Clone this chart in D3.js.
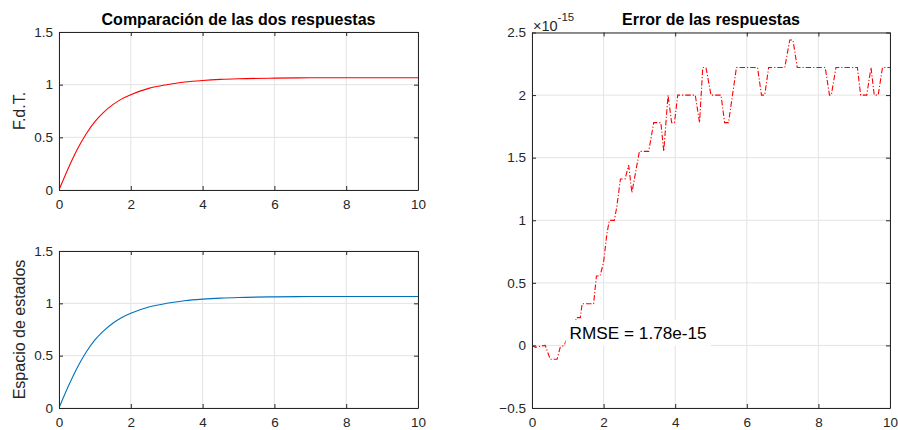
<!DOCTYPE html>
<html>
<head>
<meta charset="utf-8">
<script src="https://cdn.jsdelivr.net/npm/d3@7"></script>
<style>
  html, body { margin: 0; padding: 0; background: #fff; }
  svg { display: block; font-family: "Liberation Sans", Arial, Helvetica, sans-serif; }
  .tick text { fill: #262626; font-size: 13.5px; }
  .domain { stroke: #262626; }
  .tick line { stroke: #262626; }
</style>
</head>
<body>
<svg id="fig" width="898" height="430"></svg>
<script>
// Step responses: transfer function model and state-space model
const timeResp = [0, 0.25, 0.5, 0.75, 1, 1.25, 1.5, 1.75, 2, 2.5, 3, 3.5, 4, 4.5, 5, 6, 7, 8, 9, 10];
const fdtResp  = [0, 0.2, 0.38, 0.53, 0.65, 0.74, 0.81, 0.865, 0.905, 0.965, 1.0, 1.025, 1.04, 1.05, 1.056, 1.062, 1.065, 1.066, 1.066, 1.066];
const ssResp   = [0, 0.2, 0.38, 0.53, 0.65, 0.74, 0.81, 0.865, 0.905, 0.965, 1.0, 1.025, 1.04, 1.05, 1.056, 1.062, 1.065, 1.066, 1.066, 1.066];

// Difference between both responses (units of 1e-15)
const errTime = [0, 0.1, 0.25, 0.37, 0.51, 0.70, 0.79, 0.90, 1.05, 1.15, 1.24, 1.35, 1.40, 1.72, 1.80, 1.90, 2.00, 2.09, 2.16, 2.30,
                 2.37, 2.47, 2.60, 2.70, 2.79, 2.93, 3.00, 3.26, 3.40, 3.60, 3.68, 3.80, 3.90, 3.98, 4.07, 4.56, 4.68, 4.77, 4.86, 5.00,
                 5.28, 5.38, 5.49, 5.71, 6.30, 6.41, 6.50, 6.61, 7.06, 7.20, 7.29, 7.41, 8.19, 8.31, 8.36, 8.49, 9.09, 9.18, 9.35, 9.47,
                 9.56, 9.67, 9.79, 10.0];
const errVal  = [0, -0.015, -0.005, 0, -0.111, -0.111, -0.013, 0, 0.111, 0.111, 0.222, 0.222, 0.333, 0.333, 0.555, 0.555, 0.666, 0.888, 0.999, 0.999,
                 1.11, 1.33, 1.33, 1.44, 1.22, 1.44, 1.55, 1.55, 1.78, 1.78, 1.55, 2.0, 1.78, 1.78, 2.0, 2.0, 1.78, 2.22, 2.22, 2.0,
                 2.0, 1.78, 1.78, 2.22, 2.22, 2.0, 2.0, 2.22, 2.22, 2.44, 2.44, 2.22, 2.22, 2.0, 2.0, 2.22, 2.22, 2.0, 2.0, 2.22,
                 2.0, 2.0, 2.22, 2.22];
const rmseText = "RMSE = 1.78e-15";
const rmsePos = [1.05, 0.1];

// Tick labels
const xTicks = [0, 2, 4, 6, 8, 10];
const yTicksLeft = [0, 0.5, 1, 1.5];
const yTicksErr = [-0.5, 0, 0.5, 1, 1.5, 2, 2.5];

const svg = d3.select("#fig");
const gridColor = "#e3e3e3";
const axisColor = "#262626";

function drawAxes(g, x, y, yTicks) {
  const [x0, x1] = x.range();
  const [y0, y1] = y.range();
  // grid
  g.append("g").selectAll("line").data(xTicks).join("line")
    .attr("x1", d => x(d)).attr("x2", d => x(d)).attr("y1", y1).attr("y2", y0)
    .attr("stroke", gridColor).attr("stroke-width", 1);
  g.append("g").selectAll("line").data(yTicks).join("line")
    .attr("x1", x0).attr("x2", x1).attr("y1", d => y(d)).attr("y2", d => y(d))
    .attr("stroke", gridColor).attr("stroke-width", 1);
}

function drawFrame(g, x, y, yTicks) {
  const [x0, x1] = x.range();
  const [y0, y1] = y.range();
  const fmt = d3.format("~g");
  g.append("g").attr("transform", `translate(0,${y0})`)
    .call(d3.axisBottom(x).tickValues(xTicks).tickFormat(fmt).tickSizeInner(-4).tickSizeOuter(0).tickPadding(9.5));
  g.append("g").attr("transform", `translate(0,${y1})`)
    .call(d3.axisTop(x).tickValues(xTicks).tickFormat("").tickSizeInner(-4).tickSizeOuter(0));
  g.append("g").attr("transform", `translate(${x0},0)`)
    .call(d3.axisLeft(y).tickValues(yTicks).tickFormat(fmt).tickSizeInner(-4).tickSizeOuter(0).tickPadding(6));
  g.append("g").attr("transform", `translate(${x1},0)`)
    .call(d3.axisRight(y).tickValues(yTicks).tickFormat("").tickSizeInner(-4).tickSizeOuter(0));
  g.selectAll(".domain").attr("stroke", axisColor).attr("stroke-width", 1);
  g.selectAll(".tick text").attr("font-size", 13.5).attr("fill", axisColor);
}

function clipRect(id, x, y) {
  const [x0, x1] = x.range();
  const [y0, y1] = y.range();
  svg.append("clipPath").attr("id", id).append("rect")
    .attr("x", x0).attr("y", y1).attr("width", x1 - x0).attr("height", y0 - y1);
}

// ---------- top-left: transfer function ----------
{
  const x = d3.scaleLinear().domain([0, 10]).range([59, 418]);
  const y = d3.scaleLinear().domain([0, 1.5]).range([190, 32]);
  const g = svg.append("g");
  drawAxes(g, x, y, yTicksLeft);
  clipRect("clipTL", x, y);
  g.append("path").datum(timeResp.map((t, i) => [t, fdtResp[i]]))
    .attr("clip-path", "url(#clipTL)")
    .attr("fill", "none").attr("stroke", "#ff0000").attr("stroke-width", 1.1)
    .attr("d", d3.line().x(d => x(d[0])).y(d => y(d[1])).curve(d3.curveMonotoneX));
  drawFrame(g, x, y, yTicksLeft);
  g.append("text").attr("x", (x(0) + x(10)) / 2).attr("y", 24.5)
    .attr("text-anchor", "middle").attr("font-weight", "bold").attr("font-size", 16)
    .attr("fill", "#000").text("Comparación de las dos respuestas");
  g.append("text").attr("transform", `translate(25,${(y(0) + y(1.5)) / 2}) rotate(-90)`)
    .attr("text-anchor", "middle").attr("font-size", 16).attr("fill", axisColor).text("F.d.T.");
}

// ---------- bottom-left: state space ----------
{
  const x = d3.scaleLinear().domain([0, 10]).range([59, 418]);
  const y = d3.scaleLinear().domain([0, 1.5]).range([408, 251]);
  const g = svg.append("g");
  drawAxes(g, x, y, yTicksLeft);
  clipRect("clipBL", x, y);
  g.append("path").datum(timeResp.map((t, i) => [t, ssResp[i]]))
    .attr("clip-path", "url(#clipBL)")
    .attr("fill", "none").attr("stroke", "#0072bd").attr("stroke-width", 1.1)
    .attr("d", d3.line().x(d => x(d[0])).y(d => y(d[1])).curve(d3.curveMonotoneX));
  drawFrame(g, x, y, yTicksLeft);
  g.append("text").attr("transform", `translate(25,${(y(0) + y(1.5)) / 2}) rotate(-90)`)
    .attr("text-anchor", "middle").attr("font-size", 16).attr("fill", axisColor).text("Espacio de estados");
}

// ---------- right: error between responses ----------
{
  const x = d3.scaleLinear().domain([0, 10]).range([532, 890]);
  const y = d3.scaleLinear().domain([-0.5, 2.5]).range([408, 32.5]);
  const g = svg.append("g");
  drawAxes(g, x, y, yTicksErr);
  clipRect("clipR", x, y);
  g.append("path").datum(errTime.map((t, i) => [t, errVal[i]]))
    .attr("clip-path", "url(#clipR)")
    .attr("fill", "none").attr("stroke", "#ff0000").attr("stroke-width", 1.1)
    .attr("stroke-dasharray", "5.5,2,1.2,2")
    .attr("d", d3.line().x(d => x(d[0])).y(d => y(d[1])));

  // RMSE annotation with white background
  const lbl = g.append("g");
  const txt = lbl.append("text").attr("x", x(rmsePos[0])).attr("y", y(rmsePos[1]))
    .attr("dy", "0.35em").attr("font-size", 17.2).attr("fill", "#000").text(rmseText);
  const bb = txt.node().getBBox();
  lbl.insert("rect", "text").attr("x", bb.x - 4).attr("y", bb.y - 3)
    .attr("width", bb.width + 8).attr("height", bb.height + 6).attr("fill", "#fff");

  drawFrame(g, x, y, yTicksErr);
  g.append("text").attr("x", (x(0) + x(10)) / 2).attr("y", 24.5)
    .attr("text-anchor", "middle").attr("font-weight", "bold").attr("font-size", 16)
    .attr("fill", "#000").text("Error de las respuestas");
  const ex = g.append("text").attr("x", x(0) + 1).attr("y", 31)
    .attr("font-size", 14.5).attr("fill", axisColor);
  ex.append("tspan").text("×10");
  ex.append("tspan").attr("dy", -10).attr("font-size", 11.5).text("-15");
}
</script>
</body>
</html>
